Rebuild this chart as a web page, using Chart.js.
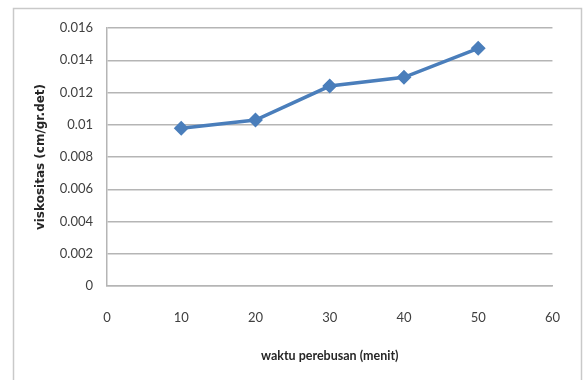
<!DOCTYPE html>
<html>
<head>
<meta charset="utf-8">
<script src="https://cdn.jsdelivr.net/npm/chart.js@4"></script>
<style>
  html, body { margin: 0; padding: 0; background: #ffffff; }
</style>
</head>
<body>
<canvas id="c" width="584" height="380"></canvas>
<script>
// Boiling time (minutes) vs. viscosity
const waktu = [10, 20, 30, 40, 50];
const viskositas = [0.00978, 0.01029, 0.01240, 0.01294, 0.01474];
const xTicks = [0, 10, 20, 30, 40, 50, 60];
const yTicks = [0, 0.002, 0.004, 0.006, 0.008, 0.01, 0.012, 0.014, 0.016];

const FONT = 'Lato, "Open Sans", sans-serif';
const points = waktu.map((x, i) => ({ x: x, y: viskositas[i] }));

// Light grey frame around the whole chart
const frame = {
  id: 'frame',
  beforeDraw(chart) {
    const ctx = chart.ctx;
    ctx.save();
    ctx.fillStyle = '#ffffff';
    ctx.fillRect(0, 0, chart.width, chart.height);
    ctx.strokeStyle = '#c9c9c9';
    ctx.lineWidth = 1.5;
    ctx.strokeRect(13.5, 8.5, 568, 390);
    ctx.restore();
  }
};

new Chart(document.getElementById('c'), {
  type: 'line',
  data: {
    datasets: [{
      data: points,
      borderColor: '#4a7ebb',
      backgroundColor: '#4a7ebb',
      borderWidth: 3.5,
      pointStyle: 'rectRot',
      pointRadius: 5,
      pointHoverRadius: 5,
      tension: 0,
      fill: false
    }]
  },
  plugins: [frame],
  options: {
    responsive: false,
    animation: false,
    devicePixelRatio: 1,
    layout: { padding: { top: 28, right: 25, left: 0, bottom: 0 } },
    plugins: { legend: { display: false }, tooltip: { enabled: false } },
    scales: {
      x: {
        type: 'linear',
        min: 0, max: 60,
        afterBuildTicks: s => { s.ticks = xTicks.map(v => ({ value: v })); },
        afterFit: s => { s.height = 94; },
        grid: { display: false, drawTicks: false },
        border: { display: true, color: '#b5b5b5', width: 1.5 },
        ticks: { padding: 24, color: '#404040', font: { family: FONT, size: 13 }, maxRotation: 0 },
        title: {
          display: true, text: 'waktu perebusan (menit)', color: '#262626',
          font: { family: FONT, size: 12.5, weight: 'bold' }, padding: { top: 0, bottom: 17 }
        }
      },
      y: {
        type: 'linear',
        min: 0, max: 0.016,
        afterBuildTicks: s => { s.ticks = yTicks.map(v => ({ value: v })); },
        afterFit: s => { s.width = 107; },
        grid: { color: '#b5b5b5', lineWidth: 1.5, drawTicks: false },
        border: { display: true, color: '#b5b5b5', width: 1.5 },
        ticks: {
          padding: 14, color: '#404040', font: { family: FONT, size: 13 },
          callback: v => String(+v.toFixed(3))
        },
        title: {
          display: true, text: 'viskositas (cm/gr.det)', color: '#262626',
          font: { family: '"DejaVu Sans", sans-serif', size: 12, weight: 'bold' }, padding: { top: 34, bottom: 0 }
        }
      }
    }
  }
});
</script>
</body>
</html>
